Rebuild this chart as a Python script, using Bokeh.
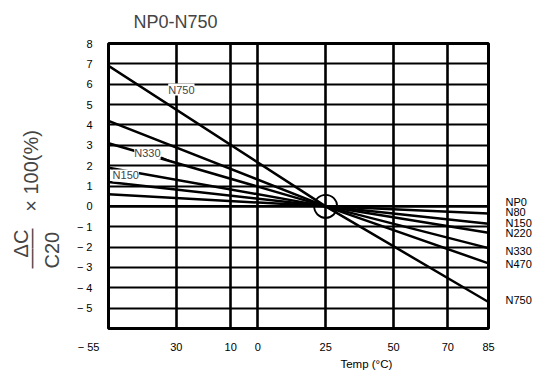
from bokeh.plotting import figure
from bokeh.models import FixedTicker, Label, Range1d, LinearAxis, Title
from bokeh.embed import file_html
from bokeh.resources import INLINE

# ---- data ----
CODES = ["NP0", "N80", "N150", "N220", "N330", "N470", "N750"]
TEMPS = [-55, 25, 85]
AT_MINUS55 = [0.0, 0.6, 1.2, 1.9, 3.1, 4.2, 6.9]
AT_25 = [0.0, 0.0, 0.0, 0.0, 0.0, 0.0, 0.0]
AT_85 = [0.0, -0.35, -0.85, -1.3, -2.05, -2.8, -4.7]

X_TICKS = [-55, -30, -10, 0, 25, 50, 70, 85]
X_TICK_LABELS = ["\u2212\u00a055" + "\u00a0" * 13, "30", "10", "0", "25", "50", "70", "85"]
Y_TICKS = [8, 7, 6, 5, 4, 3, 2, 1, 0, -1, -2, -3, -4, -5]
Y_TICK_LABELS = ["8", "7", "6", "5", "4", "3", "2", "1", "0",
                 "\u2212 1", "\u2212 2", "\u2212 3", "\u2212 4", "\u2212 5"]
X_TITLE = "Temp (\u00b0C)"
X_TITLE_AT = 40

# right-hand label layout (y positions of the stacked names)
RIGHT_LABEL_Y = [0.19, -0.30, -0.84, -1.33, -2.17, -2.81, -4.58]

FONT = "Liberation Sans"

p = figure(width=534, height=377, output_backend="svg", toolbar_location=None,
           x_range=Range1d(-55, 85), y_range=Range1d(-6, 8),
           min_border_left=106, min_border_right=46, min_border_top=43,
           min_border_bottom=49)

p.title.text = "NP0-N750"
p.title.text_font = FONT
p.title.text_font_size = "18px"
p.title.text_font_style = "normal"
p.title.align = "left"
p.title.offset = 25
p.title.vertical_align = "top"
p.title.standoff = 19

p.outline_line_color = "black"
p.outline_line_width = 3
p.background_fill_color = "white"

# right axis carrying the series names
raxis = LinearAxis(ticker=FixedTicker(ticks=RIGHT_LABEL_Y),
                   major_label_overrides={t: c for t, c in zip(RIGHT_LABEL_Y, CODES)})
p.add_layout(raxis, "right")

# second bottom axis carrying the x title at its own position
taxis = LinearAxis(ticker=FixedTicker(ticks=[X_TITLE_AT]),
                   major_label_overrides={X_TITLE_AT: X_TITLE})
p.add_layout(taxis, "below")

# axes
for ax in (p.xaxis[0], p.yaxis[0], raxis, taxis):
    ax.axis_line_color = None
    ax.major_tick_line_color = None
    ax.minor_tick_line_color = None
    ax.major_tick_out = 0
    ax.major_tick_in = 0
    ax.minor_tick_out = 0
    ax.minor_tick_in = 0
    ax.major_label_text_font = FONT
    ax.major_label_text_font_size = "11px"
    ax.major_label_text_color = "black"

raxis.major_label_standoff = 17
raxis.major_label_text_align = "left"
taxis.major_label_standoff = 2
taxis.major_label_text_font_size = "11.5px"

p.xaxis[0].ticker = FixedTicker(ticks=X_TICKS)
p.xaxis[0].major_label_overrides = {t: l for t, l in zip(X_TICKS, X_TICK_LABELS)}
p.xaxis[0].major_label_standoff = 12
p.yaxis[0].ticker = FixedTicker(ticks=Y_TICKS)
p.yaxis[0].major_label_overrides = {t: l for t, l in zip(Y_TICKS, Y_TICK_LABELS)}
p.yaxis[0].major_label_standoff = 16

p.xgrid.ticker = FixedTicker(ticks=X_TICKS)
p.ygrid.ticker = FixedTicker(ticks=Y_TICKS)
p.xgrid.grid_line_color = "black"
p.xgrid.grid_line_width = 2.6
p.ygrid.grid_line_color = "black"
p.ygrid.grid_line_width = 2.2

# y axis title: fraction  dC / C20  x 100(%) (rotated; the blank line spaces C20)
ytitle = Title(text="\u00a0\u00a0\u0394C\n\u2014\u2014\u00a0\u00a0\u00a0\u00d7 100(%)\n\u00a0\nC20",
               align="left", offset=60, standoff=18, vertical_align="top",
               text_font=FONT, text_font_size="20px", text_font_style="normal",
               text_line_height=0.47)
p.add_layout(ytitle, "left")

# series lines
for code, a, b, c in zip(CODES, AT_MINUS55, AT_25, AT_85):
    p.line(TEMPS, [a, b, c], line_color="black", line_width=2.5)

# circle at the 25 C crossing point
p.scatter([TEMPS[1]], [AT_25[0]], marker="circle", size=23,
          fill_color=None, line_color="black", line_width=1.8)

# in-plot labels
for txt, lx_, ly_ in (("N750", -33, 5.74), ("N330", -45.5, 2.6), ("N150", -53.5, 1.52)):
    p.add_layout(Label(x=lx_, y=ly_, text=txt, text_font=FONT,
                       text_font_size="11px", text_baseline="middle", text_align="left",
                       background_fill_color="white"))
# leader for N330
n330 = CODES.index("N330")
lx = -31.5
ly = AT_MINUS55[n330] * (TEMPS[1] - lx) / (TEMPS[1] - TEMPS[0])
p.line([-35.6, lx], [2.42, ly], line_color="black", line_width=1.2)

open("out.html", "w").write(file_html(p, INLINE))
